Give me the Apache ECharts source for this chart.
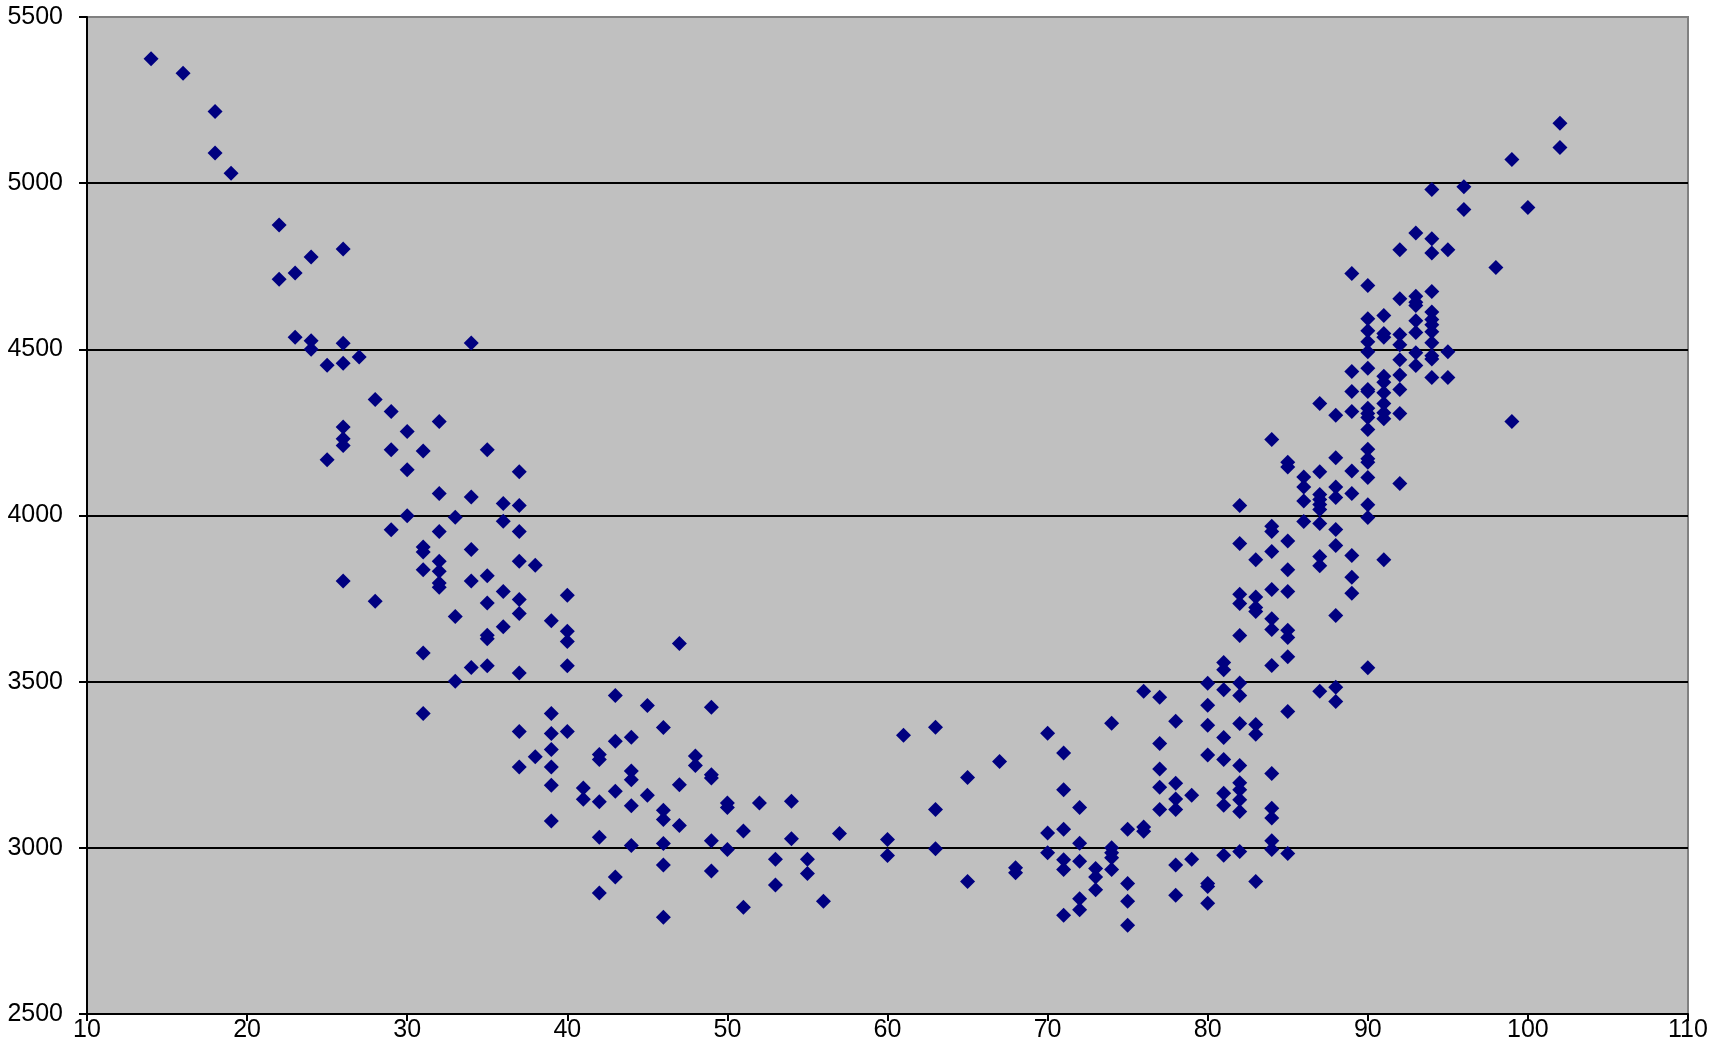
<!DOCTYPE html>
<html>
<head>
<meta charset="utf-8">
<script src="https://cdn.jsdelivr.net/npm/echarts@6/dist/echarts.min.js"></script>
<style>
html,body{margin:0;padding:0;background:#fff;}
#chart{width:1711px;height:1063px;}
</style>
</head>
<body>
<div id="chart"></div>
<script>
// x positions (integer columns) and the y values observed in each column
const columnX = [14,16,18,19,22,23,24,25,26,27,28,29,30,31,32,33,34,35,36,37,38,39,40,
  41,42,43,44,45,46,47,48,49,50,51,52,53,54,55,56,57,60,61,63,65,67,68,70,71,72,73,74,75,76,77,78,79,80,
  81,82,83,84,85,86,87,88,89,90,91,92,93,94,95,96,98,99,100,102];
const columnY = [
  [5374],[5331],[5216,5091],[5030],[4874,4711],[4730,4536],[4778,4526,4500],[4452,4168],
  [4802,4518,4458,4266,4231,4211,3803],[4477],[4349,3742],[4313,4198,3957],[4253,4138,3999],
  [4194,3905,3890,3837,3586,3404],[4283,4066,3952,3862,3832,3797,3784],[3995,3696,3501],
  [4519,4056,3898,3803,3543],[4198,3819,3737,3640,3629,3548],[4036,3983,3771,3665],
  [4132,4030,3952,3862,3747,3705,3526,3350,3243],[3850,3274],[3683,3404,3344,3296,3243,3188,3081],
  [3760,3652,3621,3548,3350],
  [3180,3146],[3281,3266,3139,3032,2864],[3458,3321,3170,2912],[3333,3231,3205,3127,3007],[3428,3158],
  [3362,3113,3085,3013,2948,2791],[3615,3190,3067],[3276,3248],[3423,3220,3210,3021,2930],[3135,3121,2995],
  [3051,2821],[3135],[2966,2888],[3140,3027],[2966,2923],[2839],[3043],[3025,2977],[3339],[3363,3115,2997],
  [3212,2899],[3260],[2940,2925],[3345,3045,2985],[3285,3175,3056,2964,2935,2797],[3121,3014,2960,2847,2814],
  [2938,2912,2874],[3375,3000,2985,2970,2935],[3056,2893,2839,2767],[3471,3063,3050],[3453,3314,3237,3182,3115],
  [3381,3194,3147,3115,2948,2857],[3158,2966],[3495,3429,3369,3279,2893,2884,2833],
  [3558,3536,3476,3332,3266,3164,3128,2978],
  [4030,3916,3763,3735,3639,3496,3458,3374,3248,3196,3175,3145,3109,2989],
  [3867,3755,3723,3711,3371,3342,2899],
  [4229,3968,3952,3892,3777,3689,3657,3549,3224,3119,3090,3021,2995],
  [4160,4146,3923,3837,3771,3655,3633,3575,3410,2983],
  [4116,4086,4044,3982],
  [4337,4132,4063,4048,4033,4018,3976,3877,3849,3471],
  [4302,4174,4086,4054,3958,3910,3699,3483,3440],
  [4728,4433,4373,4313,4134,4066,3880,3814,3766],
  [4692,4592,4556,4523,4493,4443,4379,4373,4323,4307,4295,4259,4199,4171,4160,4114,4032,3994,3542],
  [4602,4548,4536,4419,4401,4369,4337,4309,4291,3867],
  [4800,4652,4545,4514,4469,4423,4379,4307,4096],
  [4850,4660,4642,4632,4586,4551,4490,4451],
  [4981,4833,4790,4674,4612,4590,4574,4553,4520,4481,4471,4415],
  [4800,4493,4415],[4989,4921],[4746],[5071,4283],[4927],[5180,5107]
];
const xTicks = {min:10, max:110, interval:10};
const yTicks = {min:2500, max:5500, interval:500};

const points = [];
columnX.forEach((x, i) => columnY[i].forEach(y => points.push([x, y])));

const labelFont = {fontFamily:'Liberation Sans, Arial, sans-serif', fontSize:25, color:'#000',
  formatter:function(v){return String(v);}};
const chart = echarts.init(document.getElementById('chart'), null, {renderer:'canvas'});
chart.setOption({
  animation:false,
  backgroundColor:'#ffffff',
  grid:{left:87, right:23, top:17, bottom:49, show:true, backgroundColor:'#C0C0C0',
        borderColor:'#808080', borderWidth:2},
  xAxis:{type:'value', min:xTicks.min, max:xTicks.max, interval:xTicks.interval,
    axisLine:{show:true, onZero:false, lineStyle:{color:'#000', width:2}},
    axisTick:{show:true, length:7, lineStyle:{color:'#000', width:2}},
    axisLabel:Object.assign({margin:4}, labelFont),
    splitLine:{show:false}},
  yAxis:{type:'value', min:yTicks.min, max:yTicks.max, interval:yTicks.interval,
    axisLine:{show:true, onZero:false, lineStyle:{color:'#000', width:2}},
    axisTick:{show:true, length:8, lineStyle:{color:'#000', width:2}},
    axisLabel:Object.assign({margin:24}, labelFont),
    splitLine:{show:true, showMinLine:false, showMaxLine:false, lineStyle:{color:'#000', width:2}}},
  series:[{type:'scatter', data:points, symbol:'diamond', symbolSize:15,
    itemStyle:{color:'#000080', opacity:1}}]
});
</script>
</body>
</html>
